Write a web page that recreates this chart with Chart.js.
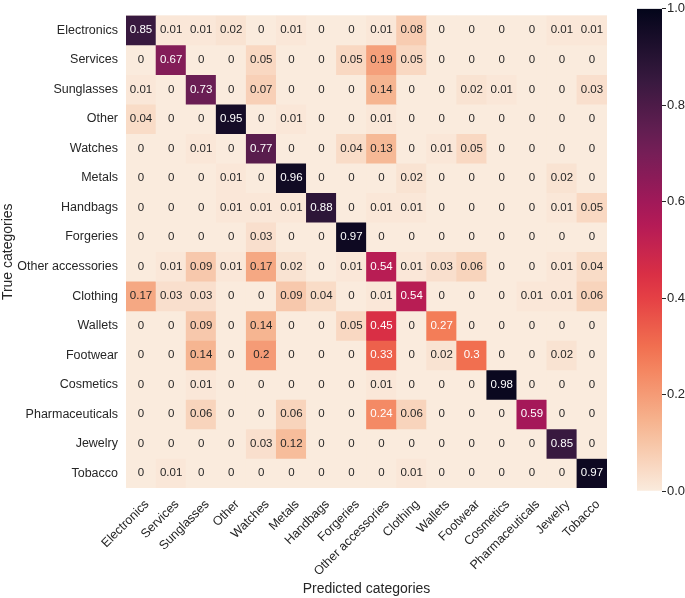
<!DOCTYPE html>
<html><head><meta charset="utf-8">
<script src="https://cdn.jsdelivr.net/npm/chart.js@4"></script>
<style>
html,body{margin:0;padding:0;background:#fff;}
#wrap{position:relative;width:685px;height:598px;}
canvas{position:absolute;left:0;top:0;}
#cb{pointer-events:none;}
</style>
</head><body>
<div id="wrap"><canvas id="hm" width="685" height="598"></canvas><canvas id="cb" width="685" height="598"></canvas></div>
<script>
const categories = ["Electronics","Services","Sunglasses","Other","Watches","Metals","Handbags","Forgeries","Other accessories","Clothing","Wallets","Footwear","Cosmetics","Pharmaceuticals","Jewelry","Tobacco"];

const rowElectronics      = [0.85,0.01,0.01,0.02,0,0.01,0,0,0.01,0.08,0,0,0,0,0.01,0.01];
const rowServices         = [0,0.67,0,0,0.05,0,0,0.05,0.19,0.05,0,0,0,0,0,0];
const rowSunglasses       = [0.01,0,0.73,0,0.07,0,0,0,0.14,0,0,0.02,0.01,0,0,0.03];
const rowOther            = [0.04,0,0,0.95,0,0.01,0,0,0.01,0,0,0,0,0,0,0];
const rowWatches          = [0,0,0.01,0,0.77,0,0,0.04,0.13,0,0.01,0.05,0,0,0,0];
const rowMetals           = [0,0,0,0.01,0,0.96,0,0,0,0.02,0,0,0,0,0.02,0];
const rowHandbags         = [0,0,0,0.01,0.01,0.01,0.88,0,0.01,0.01,0,0,0,0,0.01,0.05];
const rowForgeries        = [0,0,0,0,0.03,0,0,0.97,0,0,0,0,0,0,0,0];
const rowOtherAccessories = [0,0.01,0.09,0.01,0.17,0.02,0,0.01,0.54,0.01,0.03,0.06,0,0,0.01,0.04];
const rowClothing         = [0.17,0.03,0.03,0,0,0.09,0.04,0,0.01,0.54,0,0,0,0.01,0.01,0.06];
const rowWallets          = [0,0,0.09,0,0.14,0,0,0.05,0.45,0,0.27,0,0,0,0,0];
const rowFootwear         = [0,0,0.14,0,0.2,0,0,0,0.33,0,0.02,0.3,0,0,0.02,0];
const rowCosmetics        = [0,0,0.01,0,0,0,0,0,0.01,0,0,0,0.98,0,0,0];
const rowPharmaceuticals  = [0,0,0.06,0,0,0.06,0,0,0.24,0.06,0,0,0,0.59,0,0];
const rowJewelry          = [0,0,0,0,0.03,0.12,0,0,0,0,0,0,0,0,0.85,0];
const rowTobacco          = [0,0.01,0,0,0,0,0,0,0,0.01,0,0,0,0,0,0.97];

const colorbarTicks = [0.0,0.2,0.4,0.6,0.8,1.0];

const matrix = [rowElectronics,rowServices,rowSunglasses,rowOther,rowWatches,rowMetals,rowHandbags,rowForgeries,rowOtherAccessories,rowClothing,rowWallets,rowFootwear,rowCosmetics,rowPharmaceuticals,rowJewelry,rowTobacco];

// rocket colormap stops (position in rocket, hex); rocket_r(v) = rocket(1-v)
const rocketStops = [[0,'#03051a'],[1/7,'#35193e'],[2/7,'#701f57'],[3/7,'#ad1759'],[4/7,'#e13342'],[5/7,'#f37651'],[6/7,'#f6b48f'],[1,'#faebdd']];
function hexRgb(h){return [parseInt(h.slice(1,3),16),parseInt(h.slice(3,5),16),parseInt(h.slice(5,7),16)];}
function rocketR(v){
  const p = Math.min(1,Math.max(0,1-v));
  for(let i=0;i<rocketStops.length-1;i++){
    const [p0,c0]=rocketStops[i],[p1,c1]=rocketStops[i+1];
    if(p<=p1){
      const t=(p-p0)/(p1-p0), a=hexRgb(c0), b=hexRgb(c1);
      return [0,1,2].map(k=>Math.round(a[k]+(b[k]-a[k])*t));
    }
  }
  return hexRgb('#faebdd');
}
function rgbStr(c){return 'rgb('+c[0]+','+c[1]+','+c[2]+')';}
function lum(c){
  const l=c.map(x=>{x/=255;return x<=0.03928?x/12.92:Math.pow((x+0.055)/1.055,2.4);});
  return 0.2126*l[0]+0.7152*l[1]+0.0722*l[2];
}

const FONT='"Liberation Sans", Arial, Helvetica, sans-serif';
Chart.defaults.font.family=FONT;
Chart.defaults.color='#262626';

const annotate = {
  id:'annotate',
  beforeDatasetsDraw(chart){
    const {ctx,chartArea:a}=chart;
    ctx.save();ctx.fillStyle=rgbStr(rocketR(0));
    ctx.fillRect(a.left,a.top,a.right-a.left,a.bottom-a.top);ctx.restore();
  },
  afterDatasetsDraw(chart){
    const ctx=chart.ctx;
    ctx.save();
    ctx.font='11.5px '+FONT;
    ctx.textAlign='center';ctx.textBaseline='middle';
    matrix.forEach((row,i)=>{
      const meta=chart.getDatasetMeta(i);
      row.forEach((v,j)=>{
        const el=meta.data[j];
        const c=rocketR(v);
        ctx.fillStyle = lum(c)>0.408 ? '#262626' : '#ffffff';
        ctx.fillText(String(v), el.x, (el.y+el.base)/2);
      });
    });
    ctx.restore();
  }
};

new Chart(document.getElementById('hm'),{
  type:'bar',
  data:{
    labels:categories,
    datasets:matrix.map((row,i)=>({
      label:categories[i],
      data:categories.map(()=>1),
      backgroundColor:row.map(v=>rgbStr(rocketR(v))),
      borderWidth:0,
      barPercentage:1,
      categoryPercentage:1,
      stack:'m'
    }))
  },
  options:{
    responsive:false,animation:false,
    layout:{padding:{top:8,right:78,bottom:0,left:0}},
    plugins:{legend:{display:false},tooltip:{enabled:false}},
    scales:{
      x:{
        stacked:true,
        grid:{display:false,drawTicks:false},border:{display:false},
        ticks:{maxRotation:45,minRotation:45,autoSkip:false,font:{size:12.5},color:'#262626',padding:9,labelOffset:6},
        title:{display:true,text:'Predicted categories',font:{size:14},color:'#262626',padding:0},
        afterFit(s){s.height=110;}
      },
      y:{
        type:'linear',stacked:true,min:0,max:16,reverse:true,
        grid:{display:false,drawTicks:false},border:{display:false},
        afterBuildTicks(s){s.ticks=categories.map((c,i)=>({value:i+0.5}));},
        ticks:{autoSkip:false,font:{size:12.5},color:'#262626',padding:8,
          callback:(v,idx)=>categories[idx]},
        title:{display:true,text:'True categories',font:{size:14},color:'#262626',padding:0},
        afterFit(s){s.width=126;}
      }
    }
  },
  plugins:[annotate]
});

new Chart(document.getElementById('cb'),{
  type:'bar',
  data:{labels:['scale'],datasets:[{
    data:[1],borderWidth:0,barPercentage:1,categoryPercentage:1,
    backgroundColor(ctx){
      const a=ctx.chart.chartArea; if(!a) return '#faebdd';
      const g=ctx.chart.ctx.createLinearGradient(0,a.bottom,0,a.top);
      for(let k=0;k<=20;k++){const v=k/20;g.addColorStop(v,rgbStr(rocketR(v)));}
      return g;
    }
  }]},
  options:{
    responsive:false,animation:false,
    layout:{padding:{top:4,right:0,bottom:107,left:637}},
    plugins:{legend:{display:false},tooltip:{enabled:false}},
    scales:{
      x:{display:false},
      y:{
        position:'right',min:0,max:1,
        afterBuildTicks(s){s.ticks=colorbarTicks.map(v=>({value:v}));},
        grid:{drawOnChartArea:false,drawTicks:true,tickLength:4,color:'#262626',lineWidth:1},
        border:{display:false},
        ticks:{font:{size:13},color:'#262626',padding:1,callback:v=>Number(v).toFixed(1)},
        afterFit(s){s.width=23;}
      }
    }
  }
});
</script>
</body></html>
